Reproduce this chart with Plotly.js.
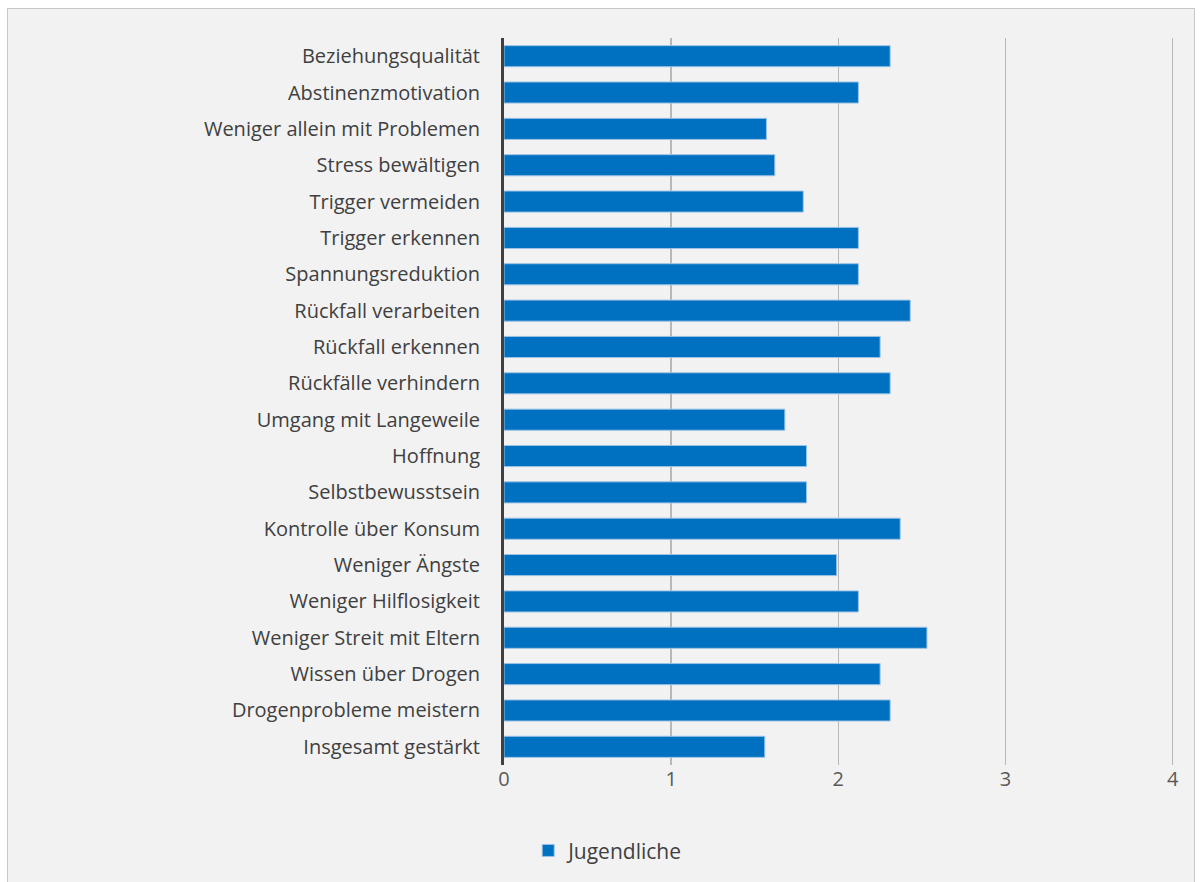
<!DOCTYPE html>
<html>
<head>
<meta charset="utf-8">
<script src="https://cdn.plot.ly/plotly-3.0.1.min.js"></script>
<style>
  html, body { margin: 0; padding: 0; background: #ffffff; }
  #chart { position: absolute; left: 7px; top: 8px; width: 1188px; height: 880px;
           box-sizing: border-box; border: 1px solid #c8c8c8; background: #f2f2f2; }
</style>
</head>
<body>
<div id="chart"></div>
<script>
const categories = [
  "Beziehungsqualität",
  "Abstinenzmotivation",
  "Weniger allein mit Problemen",
  "Stress bewältigen",
  "Trigger vermeiden",
  "Trigger erkennen",
  "Spannungsreduktion",
  "Rückfall verarbeiten",
  "Rückfall erkennen",
  "Rückfälle verhindern",
  "Umgang mit Langeweile",
  "Hoffnung",
  "Selbstbewusstsein",
  "Kontrolle über Konsum",
  "Weniger Ängste",
  "Weniger Hilflosigkeit",
  "Weniger Streit mit Eltern",
  "Wissen über Drogen",
  "Drogenprobleme meistern",
  "Insgesamt gestärkt"
];
const jugendliche = [2.31, 2.12, 1.57, 1.62, 1.79, 2.12, 2.12, 2.43, 2.25, 2.31,
                     1.68, 1.81, 1.81, 2.37, 1.99, 2.12, 2.53, 2.25, 2.31, 1.56];
const xTicks = [0, 1, 2, 3, 4];
const seriesName = "Jugendliche";

const trace = {
  type: 'bar',
  orientation: 'h',
  y: categories,
  x: jugendliche,
  name: seriesName,
  showlegend: true,
  marker: { color: '#0070c0', line: { color: '#9dc3e6', width: 1 } },
  hoverinfo: 'x+y'
};

const layout = {
  autosize: false,
  width: 1186,
  height: 878,
  paper_bgcolor: '#f2f2f2',
  plot_bgcolor: '#f2f2f2',
  margin: { l: 496, r: 18, t: 29, b: 122, pad: 0 },
  bargap: 0.42,
  font: { family: 'Open Sans, Liberation Sans, sans-serif', size: 20, color: '#595959' },
  xaxis: {
    range: [0, 4.02],
    tickvals: xTicks,
    ticktext: xTicks.map(String),
    showgrid: true,
    gridcolor: '#b8b8b8',
    gridwidth: 1.5,
    zeroline: false,
    showline: false,
    ticks: '',
    ticklabelstandoff: 0,
    tickfont: { size: 20, color: '#595959' },
    fixedrange: true
  },
  yaxis: {
    type: 'category',
    autorange: 'reversed',
    showgrid: false,
    zeroline: false,
    showline: true,
    linecolor: '#404040',
    linewidth: 3,
    ticks: '',
    ticklabelstandoff: 17,
    tickfont: { size: 20, color: '#404040' },
    fixedrange: true
  },
  showlegend: true,
  legend: {
    orientation: 'h',
    x: 0.036,
    xanchor: 'left',
    y: -0.118,
    yanchor: 'middle',
    bgcolor: 'rgba(0,0,0,0)',
    font: { size: 21, color: '#404040' },
    itemwidth: 30
  }
};

Plotly.newPlot('chart', [trace], layout, { displayModeBar: false, staticPlot: true });
</script>
</body>
</html>
